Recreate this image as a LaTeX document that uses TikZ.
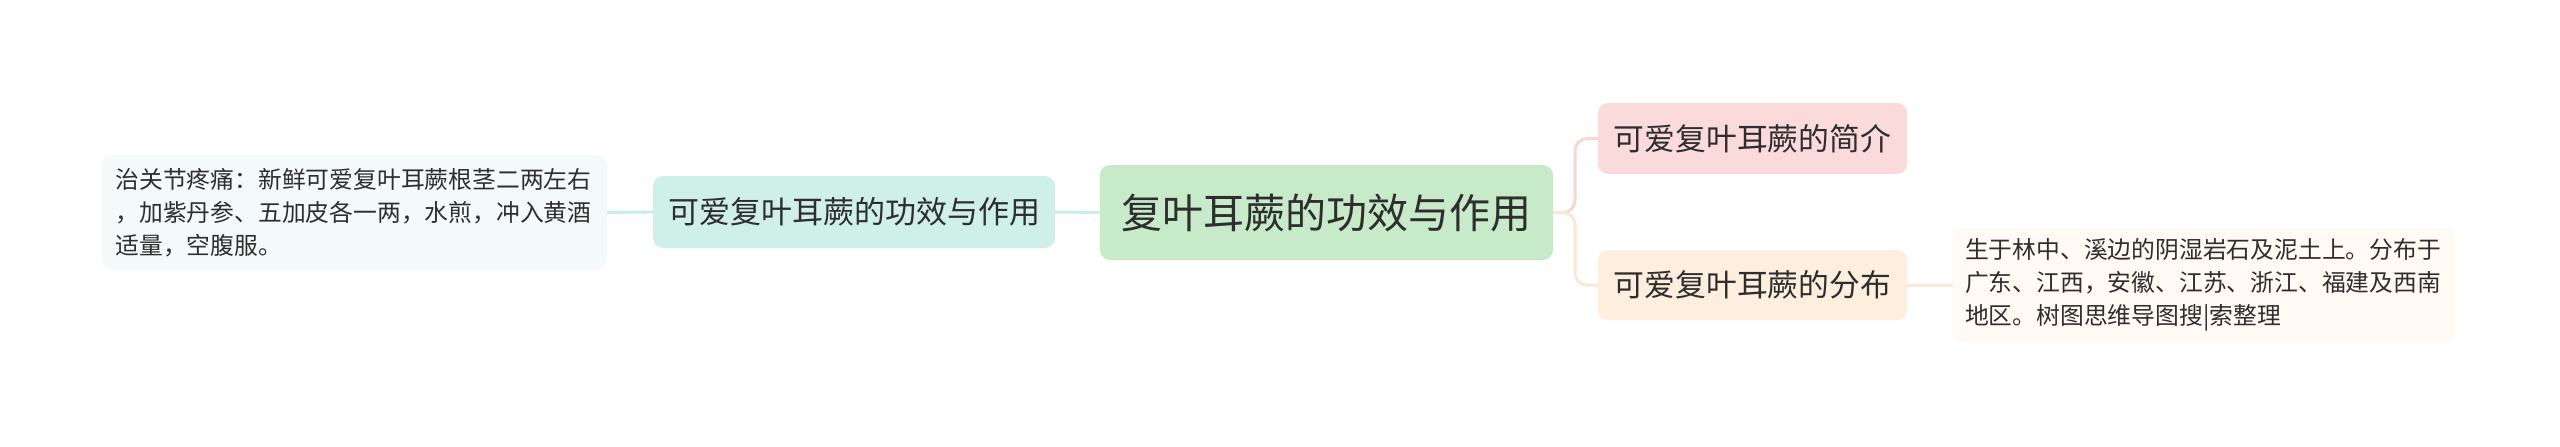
\documentclass[tikz,border=0pt]{standalone}
\usepackage{fontspec}
\setmainfont{Noto Sans CJK SC}
\definecolor{txt}{HTML}{2E2E2E}
\definecolor{cgreen}{HTML}{C7EBC9}
\definecolor{cteal}{HTML}{CFEFE9}
\definecolor{cteallt}{HTML}{F3FAF9}
\definecolor{lteal}{HTML}{CDEEE8}
\definecolor{cpink}{HTML}{FADADB}
\definecolor{lpink}{HTML}{F7D6D8}
\definecolor{cpeach}{HTML}{FDEEDE}
\definecolor{lpeach}{HTML}{FBE7D3}
\definecolor{cpeachlt}{HTML}{FFFAF4}
\tikzset{
  box/.style={rounded corners=10pt, inner sep=0pt, text=txt, align=center},
  leafbox/.style={rounded corners=10pt, inner sep=0pt, text=txt, align=left,
    font=\fontsize{23.8pt}{33pt}\selectfont},
  conn/.style={line width=3pt},
}
\begin{document}
\begin{tikzpicture}[x=1pt,y=1pt]
\path[use as bounding box, fill=white] (0,0) rectangle (2560,-447);
% nodes
\node[box, fill=cgreen, minimum width=453pt, minimum height=95pt,
  font=\fontsize{41pt}{48pt}\selectfont] (center) at (1326.5,-212.5) {复叶耳蕨的功效与作用};
\node[box, fill=cteal, minimum width=402pt, minimum height=72pt,
  font=\fontsize{31pt}{36pt}\selectfont] (lnode) at (854,-212) {可爱复叶耳蕨的功效与作用};
\node[leafbox, fill=cteallt, minimum width=505pt, minimum height=115pt, text width=478pt] (lleaf) at (354.5,-212.5)
  {治关节疼痛：新鲜可爱复叶耳蕨根茎二两左右\\，加紫丹参、五加皮各一两，水煎，冲入黄酒\\适量，空腹服。};
\node[box, fill=cpink, minimum width=309pt, minimum height=71pt,
  font=\fontsize{30.8pt}{36pt}\selectfont] (rtop) at (1752.5,-138.5) {可爱复叶耳蕨的简介};
\node[box, fill=cpeach, minimum width=309pt, minimum height=70pt,
  font=\fontsize{30.8pt}{36pt}\selectfont] (rbot) at (1752.5,-285) {可爱复叶耳蕨的分布};
\node[leafbox, fill=cpeachlt, minimum width=502pt, minimum height=114pt, text width=478pt] (rleaf) at (2204,-285)
  {生于林中、溪边的阴湿岩石及泥土上。分布于\\广东、江西，安徽、江苏、浙江、福建及西南\\地区。树图思维导图搜|索整理};
% connectors
\coordinate (trunk) at (1575,-212.5);
\draw[conn, lteal] (center.west) -- (lnode.east);
\draw[conn, lteal] (lnode.west) -- (lleaf.east);
\draw[conn, lpink, rounded corners=12pt] (center.east) -- (trunk) |- (rtop.west);
\draw[conn, lpeach, rounded corners=12pt] (center.east) -- (trunk) |- (rbot.west);
\draw[conn, lpeach] (rbot.east) -- (rleaf.west);
\end{tikzpicture}
\end{document}
